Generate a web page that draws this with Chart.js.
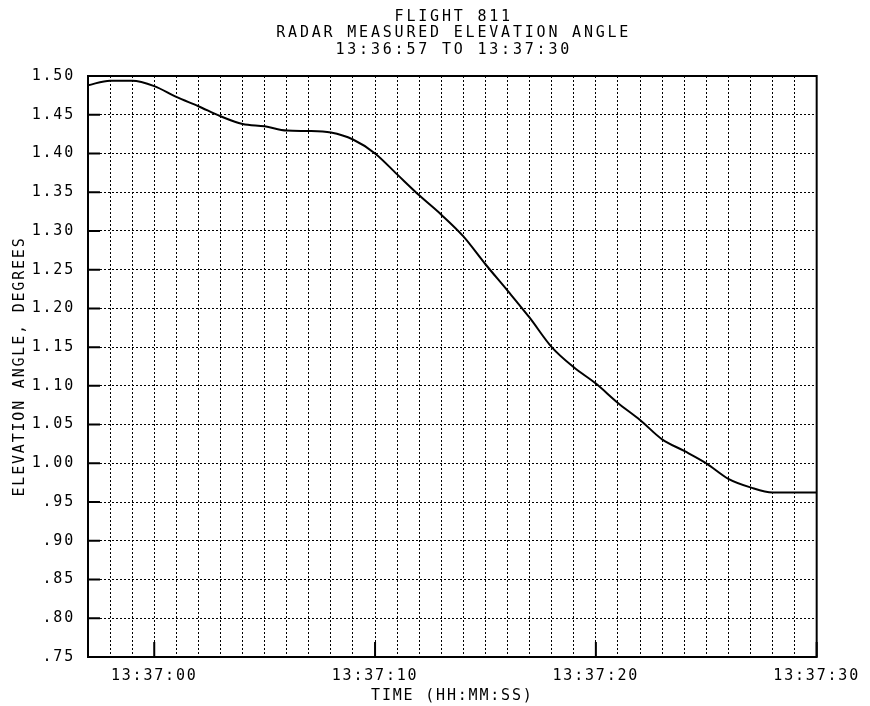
<!DOCTYPE html>
<html lang="en">
  <head>
    <meta charset="utf-8" />
    <title>Flight 811 radar elevation angle</title>
    <style>
      * {
        margin: 0;
        padding: 0;
      }
      body {
        background: white;
      }
    </style>
  </head>
  <body>
    <canvas id="myChart" width="870" height="706"></canvas>

    <script src="https://cdn.jsdelivr.net/npm/chart.js"></script>
    <script>
      // data block
      const titleLines = [
        "FLIGHT 811",
        "RADAR MEASURED ELEVATION ANGLE",
        "13:36:57 TO 13:37:30",
      ];

      const times = [
        "13:36:57", "13:36:58", "13:36:59", "13:37:00", "13:37:01",
        "13:37:02", "13:37:03", "13:37:04", "13:37:05", "13:37:06",
        "13:37:07", "13:37:08", "13:37:09", "13:37:10", "13:37:11",
        "13:37:12", "13:37:13", "13:37:14", "13:37:15", "13:37:16",
        "13:37:17", "13:37:18", "13:37:19", "13:37:20", "13:37:21",
        "13:37:22", "13:37:23", "13:37:24", "13:37:25", "13:37:26",
        "13:37:27", "13:37:28", "13:37:29", "13:37:30",
      ];

      const elevation = [
        1.488, 1.494, 1.494, 1.487, 1.473,
        1.461, 1.448, 1.438, 1.435, 1.4295,
        1.429, 1.427, 1.418, 1.4, 1.373,
        1.346, 1.321, 1.293, 1.257, 1.223,
        1.188, 1.15, 1.124, 1.103, 1.078,
        1.056, 1.031, 1.016, 1.0, 0.98,
        0.969, 0.9625, 0.9625, 0.9625,
      ];

      // times that carry a label on the x axis
      const xTickLabels = ["13:37:00", "13:37:10", "13:37:20", "13:37:30"];

      const yTickLabels = [
        ".75", ".80", ".85", ".90", ".95", "1.00", "1.05", "1.10",
        "1.15", "1.20", "1.25", "1.30", "1.35", "1.40", "1.45", "1.50",
      ];

      const FONT = "'DejaVu Sans Mono', monospace";

      // plotter text is widely spaced
      const letterSpacing = {
        id: "letterSpacing",
        beforeLayout(chart) {
          chart.ctx.letterSpacing = "1.8px";
        },
        beforeDraw(chart) {
          chart.ctx.letterSpacing = "1.8px";
        },
      };

      // three line heading, centred over the plot
      const plotTitle = {
        id: "plotTitle",
        afterDraw(chart) {
          const { ctx, chartArea } = chart;
          const cx = (chartArea.left + chartArea.right) / 2;
          ctx.save();
          ctx.font = "15px " + FONT;
          ctx.letterSpacing = "2.8px";
          ctx.fillStyle = "#000";
          ctx.textAlign = "center";
          ctx.textBaseline = "middle";
          titleLines.forEach((line, i) => {
            ctx.fillText(line, cx + 1.4, 17 + i * 16.5);
          });
          ctx.restore();
        },
      };

      // solid frame and the short inward tick marks
      const plotFrame = {
        id: "plotFrame",
        afterDatasetsDraw(chart) {
          const {
            ctx,
            chartArea: { left, right, top, bottom },
            scales: { x, y },
          } = chart;
          ctx.save();
          ctx.strokeStyle = "#000";
          ctx.lineWidth = 2;
          ctx.setLineDash([]);
          ctx.strokeRect(left, top, right - left, bottom - top);

          ctx.beginPath();
          y.ticks.forEach((t) => {
            const py = y.getPixelForValue(t.value);
            ctx.moveTo(left, py);
            ctx.lineTo(left + 12, py);
          });
          xTickLabels.forEach((lbl) => {
            const px = x.getPixelForValue(times.indexOf(lbl));
            ctx.moveTo(px, bottom);
            ctx.lineTo(px, bottom - 15);
          });
          ctx.stroke();
          ctx.restore();
        },
      };

      const data = {
        labels: times,
        datasets: [
          {
            data: elevation,
            borderColor: "#000",
            borderWidth: 2,
            pointRadius: 0,
            cubicInterpolationMode: "monotone",
            fill: false,
          },
        ],
      };

      // config block
      const config = {
        type: "line",
        data: data,
        options: {
          responsive: false,
          animation: false,
          layout: {
            padding: { top: 76, right: 50, left: 0, bottom: 0 },
          },
          plugins: {
            legend: { display: false },
            tooltip: { enabled: false },
          },
          scales: {
            x: {
              type: "category",
              offset: false,
              grid: {
                color: "#000",
                lineWidth: 1,
                drawTicks: false,
              },
              border: { display: false, dash: [2, 2] },
              ticks: {
                autoSkip: false,
                maxRotation: 0,
                padding: 10,
                color: "#000",
                font: { family: FONT, size: 15 },
                callback: (value, index) =>
                  xTickLabels.includes(times[index]) ? times[index] : "",
              },
              title: {
                display: true,
                text: "TIME (HH:MM:SS)",
                color: "#000",
                font: { family: FONT, size: 15 },
                padding: { top: 0, bottom: 1 },
              },
              afterFit(scale) {
                scale.height = 49;
              },
            },
            y: {
              min: 0.75,
              max: 1.5,
              grid: {
                color: "#000",
                lineWidth: 1,
                drawTicks: false,
              },
              border: { display: false, dash: [2, 2] },
              afterBuildTicks(scale) {
                scale.ticks = yTickLabels.map((l) => ({ value: parseFloat(l) }));
              },
              ticks: {
                padding: 13,
                color: "#000",
                font: { family: FONT, size: 15 },
                callback: (value, index) => yTickLabels[index],
              },
              title: {
                display: true,
                text: "ELEVATION ANGLE, DEGREES",
                color: "#000",
                font: { family: FONT, size: 15 },
                padding: { top: 11, bottom: 0 },
              },
              afterFit(scale) {
                scale.width = 88;
              },
            },
          },
        },
        plugins: [letterSpacing, plotTitle, plotFrame],
      };

      // init render block
      const myChart = new Chart(document.getElementById("myChart"), config);
    </script>
  </body>
</html>
